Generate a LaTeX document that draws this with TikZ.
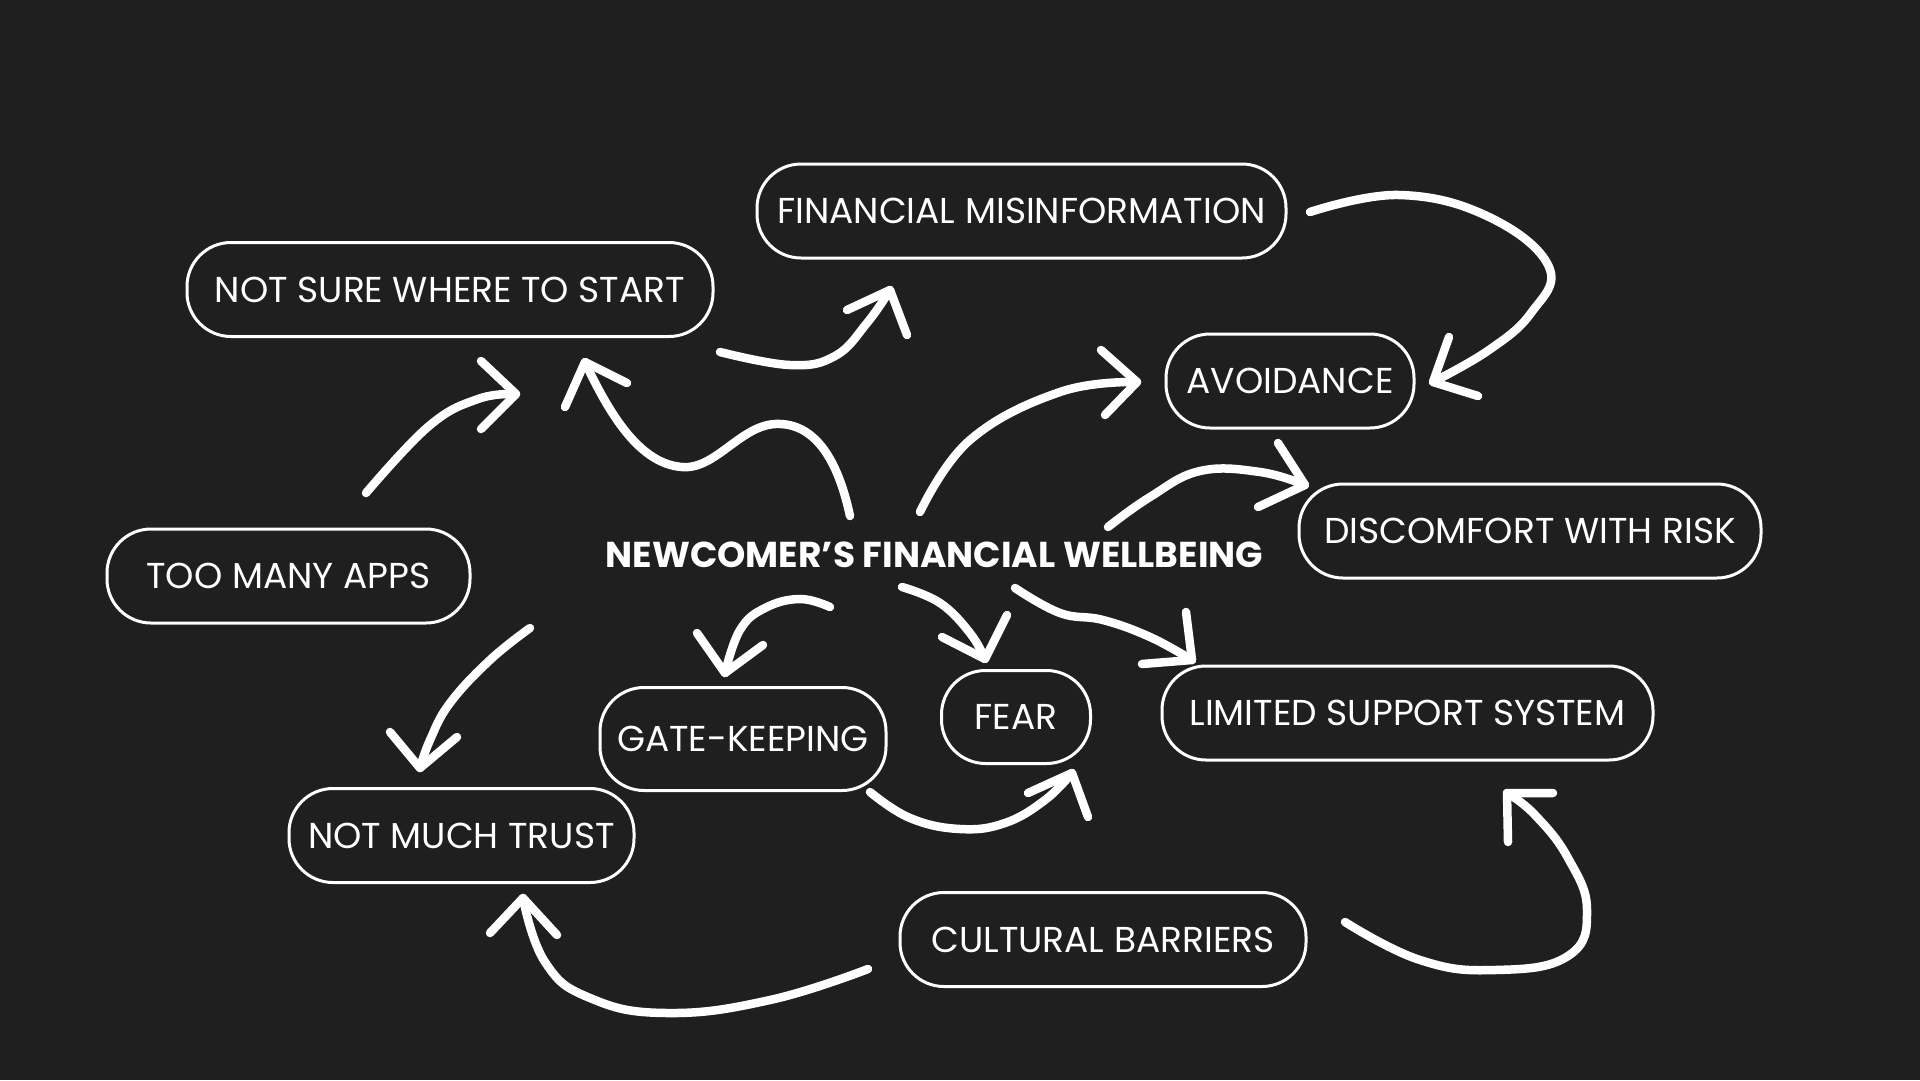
\documentclass[tikz,border=0pt]{standalone}
\usepackage{fontspec}
\setmainfont{Poppins}
\definecolor{bg}{RGB}{31,31,31}
\begin{document}
\begin{tikzpicture}[x=1pt,y=-1pt,
  box/.style={draw=white, line width=3pt, fill=bg, rounded corners=44pt,
    minimum height=94pt, inner sep=0pt, text=white,
    font=\fontsize{36}{40}\selectfont},
  titletext/.style={text=white, inner sep=0pt, font=\fontsize{36}{40}\selectfont\bfseries},
  conn/.style={draw=white, line width=8.5pt, line cap=round, line join=round},
]
\fill[bg] (0,0) rectangle (1920,1080);
\useasboundingbox (0,0) rectangle (1920,1080);

% nodes
\node[box, minimum width=529pt] (fm) at (1021.5,211) {FINANCIAL MISINFORMATION};
\node[box, minimum width=526pt] (ns) at (450,289.5) {NOT SURE WHERE TO START};
\node[box, minimum width=248pt] (av) at (1290,381) {AVOIDANCE};
\node[box, minimum width=462pt] (dr) at (1530,531) {DISCOMFORT WITH RISK};
\node[box, minimum width=363pt] (tm) at (288.5,576) {TOO MANY APPS};
\node[box, minimum width=286pt, minimum height=103pt] (gk) at (743,739) {GATE-KEEPING};
\node[box, minimum width=149pt, minimum height=93pt] (fe) at (1016,717) {FEAR};
\node[box, minimum width=491pt] (ls) at (1407.5,713) {LIMITED SUPPORT SYSTEM};
\node[box, minimum width=345pt] (nt) at (461.5,835.5) {NOT MUCH TRUST};
\node[box, minimum width=406pt] (cb) at (1103,939.5) {CULTURAL BARRIERS};
\node[titletext] (ti) at (934.5,554.5) {NEWCOMER’S FINANCIAL WELLBEING};

% connector end points
\coordinate (a0) at (850,516);  \coordinate (a1) at (585,362);
\coordinate (b0) at (366,493);  \coordinate (b1) at (516,394);
\coordinate (c0) at (720,352);  \coordinate (c1) at (890,290);
\coordinate (d0) at (1310,212); \coordinate (d1) at (1433,382);
\coordinate (e0) at (920,512);  \coordinate (e1) at (1137,382);
\coordinate (f0) at (1108,527); \coordinate (f1) at (1305,485);
\coordinate (g0) at (1015,588); \coordinate (g1) at (1192,660);
\coordinate (h0) at (902,587);  \coordinate (h1) at (985,659);
\coordinate (i0) at (830,607);  \coordinate (i1) at (725,673);
\coordinate (j0) at (870,792);  \coordinate (j1) at (1072,773);
\coordinate (k0) at (530,628);  \coordinate (k1) at (420,768);
\coordinate (l0) at (868,969);  \coordinate (l1) at (523,898);
\coordinate (m0) at (1345,922); \coordinate (m1) at (1507,793);

% A: wellbeing -> not sure (wavy)
\draw[conn] (a0) .. controls (838,460) and (815,422) .. (775,424)
                 .. controls (740,426) and (715,470) .. (682,467)
                 .. controls (642,464) and (612,420) .. (a1);
\draw[conn] (565,407) -- (a1) -- (627,383);
% B: too many apps -> not sure
\draw[conn] plot[smooth, tension=0.7] coordinates {(b0) (429,426) (478,399) (b1)};
\draw[conn] (481,361) -- (b1) -- (481,429);
% C: not sure -> misinformation
\draw[conn] plot[smooth, tension=0.7] coordinates {(c0) (790,365) (835,356) (867,323) (c1)};
\draw[conn] (847,310) -- (c1) -- (907,335);
% D: misinformation -> avoidance
\draw[conn] plot[smooth, tension=0.7] coordinates {(d0) (1399,195) (1489,217) (1549,267) (1531,313) (1489,350) (d1)};
\draw[conn] (1449,337) -- (d1) -- (1478,396);
% E: wellbeing -> avoidance
\draw[conn] plot[smooth, tension=0.7] coordinates {(e0) (970,440) (1060,392) (e1)};
\draw[conn] (1101,350) -- (e1) -- (1105,415);
% F: wellbeing -> discomfort
\draw[conn] plot[smooth, tension=0.7] coordinates {(f0) (1150,497) (1200,471) (1260,472) (f1)};
\draw[conn] (1278,443) -- (f1) -- (1258,507);
% G: wellbeing -> limited support
\draw[conn] plot[smooth, tension=0.7] coordinates {(g0) (1060,613) (1103,620) (1150,637) (g1)};
\draw[conn] (1186,612) -- (g1) -- (1142,664);
% H: wellbeing -> fear
\draw[conn] plot[smooth, tension=0.7] coordinates {(h0) (940,603) (970,633) (h1)};
\draw[conn] (942,637) -- (h1) -- (1007,615);
% I: wellbeing -> gate-keeping
\draw[conn] plot[smooth, tension=0.7] coordinates {(i0) (800,599) (765,608) (740,630) (i1)};
\draw[conn] (697,633) -- (i1) -- (763,645);
% J: gate-keeping -> fear
\draw[conn] plot[smooth, tension=0.7] coordinates {(j0) (910,818) (960,829) (1005,823) (1045,800) (j1)};
\draw[conn] (1028,793) -- (j1) -- (1088,817);
% K: -> not much trust
\draw[conn] plot[smooth, tension=0.7] coordinates {(k0) (490,660) (450,703) (430,740) (k1)};
\draw[conn] (390,732) -- (k1) -- (457,737);
% L: cultural barriers -> not much trust
\draw[conn] plot[smooth, tension=0.75] coordinates {(l0) (770,1000) (667,1013) (590,998) (545,962) (l1)};
\draw[conn] (490,933) -- (l1) -- (557,935);
% M: cultural barriers -> limited support
\draw[conn] plot[smooth, tension=0.75] coordinates {(m0) (1420,960) (1495,970) (1568,956) (1587,910) (1568,858) (1535,815) (m1)};
\draw[conn] (1508,842) -- (m1) -- (1553,793);
\end{tikzpicture}
\end{document}
